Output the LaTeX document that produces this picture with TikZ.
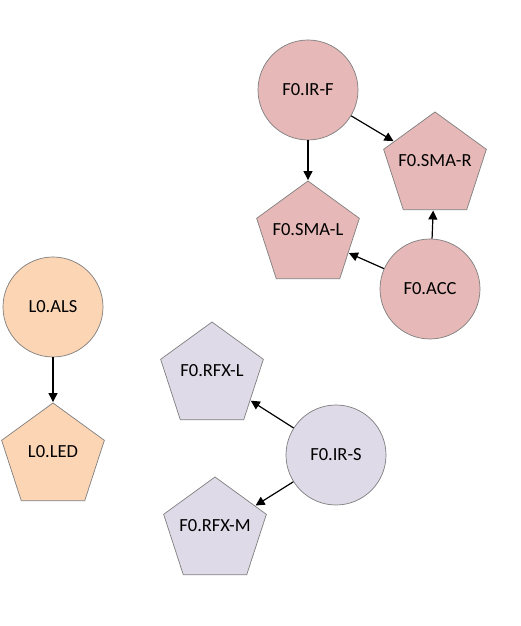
\documentclass[tikz,border=0pt]{standalone}
\usepackage{fontspec}
\setmainfont{Carlito}
\usetikzlibrary{shapes.geometric,arrows.meta}
\definecolor{redfill}{HTML}{E6B8B7}
\definecolor{orangefill}{HTML}{FCD5B5}
\definecolor{purplefill}{HTML}{DEDAE7}
\definecolor{edgegrey}{HTML}{7F7F7F}
\tikzset{
  base/.style={draw=edgegrey, line width=0.7pt, font=\fontsize{18.5}{21}\selectfont, inner sep=0pt},
  circ/.style={base, circle, minimum size=100pt},
  pent/.style={base, regular polygon, regular polygon sides=5, minimum size=108pt, text height=12pt, text depth=10pt},
  conn/.style={-{Triangle[length=9pt,width=9pt]}, line width=1.2pt, black, shorten >=0.5pt}
}
\newcommand{\ptext}[1]{\makebox[0pt][c]{#1}}
\begin{document}
\begin{tikzpicture}[x=1pt,y=1pt]
\useasboundingbox (0,0) rectangle (521,626);
\fill[white] (0,0) rectangle (521,626);
% red group
\node[circ, fill=redfill] (irf) at (308,536) {F0.IR-F};
\node[circ, fill=redfill] (acc) at (430,337) {F0.ACC};
\node[pent, fill=redfill] (smar) at (435,460) {\ptext{F0.SMA-R}};
\node[pent, fill=redfill] (smal) at (308,391) {\ptext{F0.SMA-L}};
% orange group
\node[circ, fill=orangefill] (als) at (53,319) {L0.ALS};
\node[pent, fill=orangefill] (led) at (53,169) {\ptext{L0.LED}};
% purple group
\node[circ, fill=purplefill] (irs) at (336,171) {F0.IR-S};
\node[pent, fill=purplefill] (rfxl) at (212,250) {\ptext{F0.RFX-L}};
\node[pent, fill=purplefill] (rfxm) at (215,95) {\ptext{F0.RFX-M}};
% connectors
\draw[conn] (irf) -- (smal);
\draw[conn] (irf) -- (smar);
\draw[conn] (acc) -- (smar);
\draw[conn] (acc) -- (smal);
\draw[conn] (als) -- (led);
\draw[conn] (irs) -- (rfxl);
\draw[conn] (irs) -- (rfxm);
\end{tikzpicture}
\end{document}
